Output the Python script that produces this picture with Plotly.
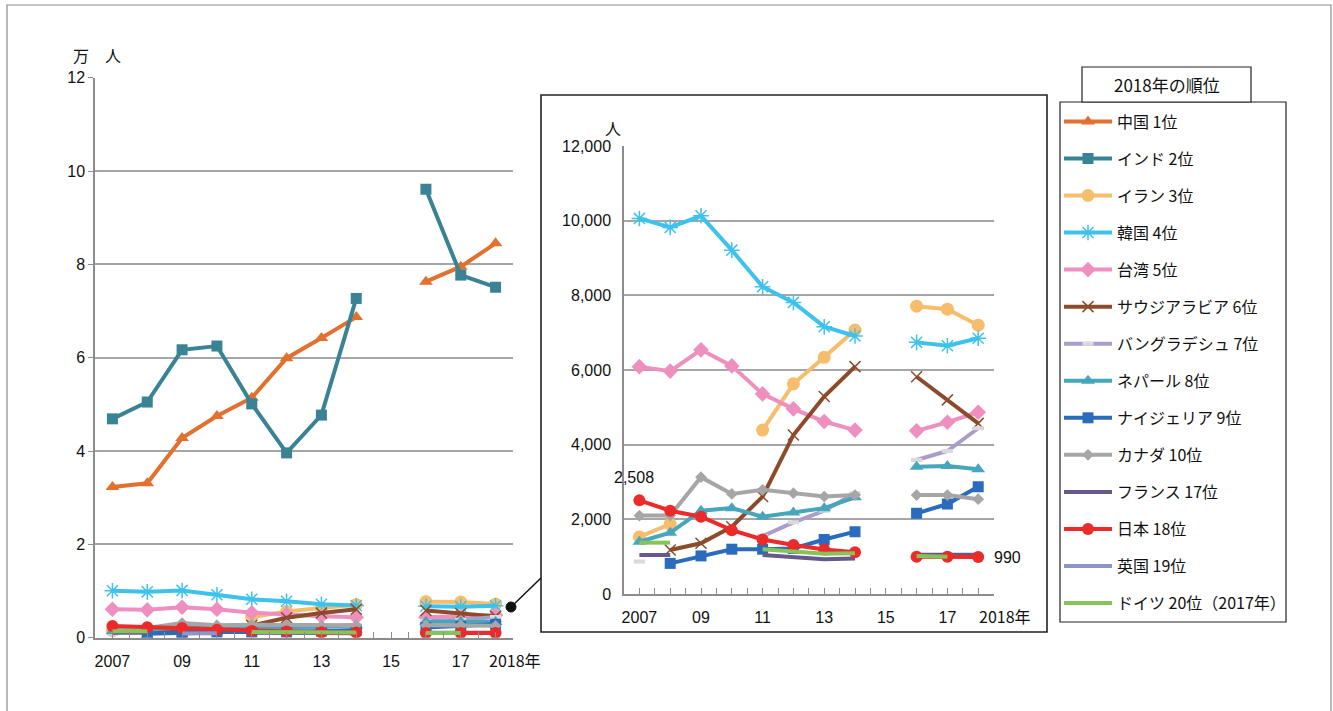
import plotly.graph_objects as go

# ---- data (persons) ----
years = [2007, 2008, 2009, 2010, 2011, 2012, 2013, 2014, 2015, 2016, 2017, 2018]

china      = [32300, 33100, 42800, 47500, 51400, 59900, 64200, 68700, None, 76300, 79500, 84500]
india      = [46900, 50500, 61700, 62500, 50100, 39600, 47700, 72700, None, 96100, 77700, 75100]
iran       = [1530, 1870, None, None, 4390, 5630, 6340, 7070, None, 7710, 7630, 7200]
korea      = [10060, 9820, 10130, 9210, 8230, 7810, 7160, 6910, None, 6740, 6650, 6850]
taiwan     = [6090, 5970, 6540, 6110, 5360, 4960, 4620, 4390, None, 4370, 4600, 4870]
saudi      = [None, 1180, 1360, 1800, 2610, 4260, 5290, 6090, None, 5820, 5200, 4570]
bangladesh = [870, None, None, None, 1550, 1920, 2230, 2700, None, 3590, 3830, 4440]
nepal      = [1400, 1640, 2230, 2300, 2070, 2180, 2300, 2590, None, 3410, 3430, 3340]
nigeria    = [None, 820, 1020, 1200, 1200, 1220, 1460, 1670, None, 2160, 2410, 2870]
canada     = [2100, 2100, 3130, 2680, 2790, 2700, 2610, 2650, None, 2650, 2650, 2540]
france     = [1045, 1045, None, None, 1045, 980, 930, 950, None, 1050, 1050, 1050]
japan      = [2508, 2230, 2070, 1710, 1460, 1310, 1190, 1120, None, 1000, 1000, 990]
uk         = [None, None, 900, 950, None, None, None, None, None, None, None, None]
germany    = [1375, 1375, None, None, 1200, 1130, 1080, 1090, None, 1020, 1000, None]

names = ["中国 1位", "インド 2位", "イラン 3位", "韓国 4位", "台湾 5位", "サウジアラビア 6位",
         "バングラデシュ 7位", "ネパール 8位", "ナイジェリア 9位", "カナダ 10位",
         "フランス 17位", "日本 18位", "英国 19位", "ドイツ 20位（2017年）"]

tick_years = [2007, 2009, 2011, 2013, 2015, 2017]
tick_text = ["2007", "09", "11", "13", "15", "17"]

# ---- styles ----
W, H = 1333, 711
FONT = "Liberation Sans, Arial, Noto Sans CJK JP, sans-serif"
JFONT = "Noto Sans CJK JP, Liberation Sans, sans-serif"

def X(px):
    return px / W

def Y(py):
    return 1 - py / H

series = [
    (china,      "#E2702F", dict(symbol="triangle-up", size=12), True),
    (india,      "#398395", dict(symbol="square", size=11), True),
    (iran,       "#F6BE6C", dict(symbol="circle", size=13), False),
    (korea,      "#3DC2EC", dict(symbol="asterisk-open", size=13, line=dict(width=1.5, color="#3DC2EC")), False),
    (taiwan,     "#EF8FBF", dict(symbol="diamond", size=12), False),
    (saudi,      "#8C4B2A", dict(symbol="x-thin-open", size=11, line=dict(width=1.5, color="#6E3718")), False),
    (bangladesh, "#AA9DCB", dict(symbol="line-ew", size=8, line=dict(width=4, color="#D9D9DE")), False),
    (nepal,      "#45A6BC", dict(symbol="triangle-up", size=12), False),
    (nigeria,    "#2A6BBE", dict(symbol="square", size=11), False),
    (canada,     "#A6A6A6", dict(symbol="diamond", size=9), False),
    (france,     "#67598A", None, False),
    (japan,      "#EC2A2A", dict(symbol="circle", size=12), False),
    (uk,         "#8E94CC", None, False),
    (germany,    "#86C45A", None, False),
]

fig = go.Figure()

# left panel: values in 万人, legend entries come from here
for i, (vals, color, marker, _) in enumerate(series):
    yv = [None if v is None else v / 10000 for v in vals]
    mode = "lines+markers" if marker else "lines"
    kw = dict(marker=dict(color=color, **marker)) if marker else {}
    fig.add_trace(go.Scatter(
        x=years, y=yv, mode=mode, name=names[i], legendgroup=str(i),
        line=dict(color=color, width=4), connectgaps=False,
        xaxis="x", yaxis="y", showlegend=True, hoverinfo="skip", **kw))

# inset panel: persons (China, India and UK not drawn)
for i, (vals, color, marker, big) in enumerate(series):
    if big or vals is uk:
        continue
    mode = "lines+markers" if marker else "lines"
    kw = dict(marker=dict(color=color, **marker)) if marker else {}
    fig.add_trace(go.Scatter(
        x=years, y=vals, mode=mode, name=names[i], legendgroup=str(i),
        line=dict(color=color, width=4), connectgaps=False,
        xaxis="x2", yaxis="y2", showlegend=False, hoverinfo="skip", **kw))

axis_common = dict(
    showline=True, linecolor="#8C8C8C", linewidth=1.5, automargin=False,
    tickfont=dict(family=FONT, size=16, color="#111"),
)

xcommon = dict(
    range=[2006.5, 2018.5], tickmode="array", tickvals=tick_years, ticktext=tick_text,
    ticks="inside", ticklen=6, tickcolor="#8C8C8C", tickwidth=1.2, ticklabelstandoff=8,
    minor=dict(tick0=2006.5, dtick=0.5, ticks="inside", ticklen=6, tickcolor="#8C8C8C", tickwidth=1.2),
    showgrid=False, zeroline=False, **axis_common,
)

fig.update_layout(
    width=W, height=H,
    margin=dict(l=0, r=0, t=0, b=0, pad=0, autoexpand=False),
    paper_bgcolor="white", plot_bgcolor="white",
    xaxis=dict(domain=[X(95), X(513)], anchor="y", **xcommon),
    yaxis=dict(domain=[Y(637.7), Y(77.7)], anchor="x", range=[0, 12], dtick=2,
               showgrid=True, gridcolor="#A6A6A6", gridwidth=1.5, zeroline=False,
               ticks="outside", ticklen=5, tickcolor="#8C8C8C", **axis_common),
    xaxis2=dict(domain=[X(624), X(993.6)], anchor="y2", **xcommon),
    yaxis2=dict(domain=[Y(594), Y(146)], anchor="x2", range=[0, 12000], dtick=2000,
                tickformat=",", showgrid=True, gridcolor="#A6A6A6", gridwidth=1.5,
                zeroline=False, ticks="", ticklabelstandoff=8, **axis_common),
    legend=dict(
        x=X(1059), y=Y(104.5), xanchor="left", yanchor="top",
        bgcolor="rgba(0,0,0,0)", borderwidth=0,
        font=dict(family=JFONT, size=16, color="#111"),
        traceorder="grouped", tracegroupgap=13.25, itemwidth=48,
    ),
    showlegend=True,
)

shapes = [
    # outer frame
    dict(type="rect", xref="paper", yref="paper", x0=X(7), x1=X(1331), y0=-0.02, y1=Y(5),
         line=dict(color="#8C8C8C", width=1.2), layer="below"),
    # inset frame
    dict(type="rect", xref="paper", yref="paper", x0=X(541), x1=X(1047), y0=Y(632), y1=Y(95),
         line=dict(color="#222", width=1.6), layer="below"),
    # legend frame
    dict(type="rect", xref="paper", yref="paper", x0=X(1060), x1=X(1286), y0=Y(622), y1=Y(102),
         line=dict(color="#222", width=1.2), layer="below"),
    # legend title box
    dict(type="rect", xref="paper", yref="paper", x0=X(1082), x1=X(1251), y0=Y(102), y1=Y(67),
         line=dict(color="#222", width=1.2), fillcolor="white", layer="below"),
    # connector from main chart to inset
    dict(type="line", xref="paper", yref="paper", x0=X(511), y0=Y(607), x1=X(541), y1=Y(578),
         line=dict(color="#111", width=1.5)),
    dict(type="circle", xref="paper", yref="paper", x0=X(506), x1=X(516), y0=Y(612), y1=Y(602),
         line=dict(color="#111", width=1), fillcolor="#111"),
]
fig.update_layout(shapes=shapes)

ann = [
    dict(text="万　人", x=X(96.5), y=Y(55), xref="paper", yref="paper", showarrow=False,
         xanchor="center", yanchor="middle", font=dict(family=JFONT, size=16, color="#111")),
    dict(text="人", x=X(613), y=Y(128), xref="paper", yref="paper", showarrow=False,
         xanchor="center", yanchor="middle", font=dict(family=JFONT, size=16, color="#111")),
    dict(text="2018年", x=2018, y=0, xref="x", yref="y", yanchor="middle", xanchor="left",
         xshift=-9, yshift=-22, showarrow=False, font=dict(family=JFONT, size=16, color="#111")),
    dict(text="2018年", x=2018, y=0, xref="x2", yref="y2", yanchor="middle", xanchor="left",
         xshift=-1, yshift=-22, showarrow=False, font=dict(family=JFONT, size=16, color="#111")),
    dict(text=f"{japan[0]:,}", x=years[0], y=japan[0], xref="x2", yref="y2", showarrow=False,
         xanchor="center", yanchor="middle",
         xshift=-5, yshift=23, font=dict(family=FONT, size=16, color="#111")),
    dict(text=f"{japan[-1]:,}", x=years[-1], y=japan[-1], xref="x2", yref="y2", showarrow=False,
         xanchor="left", yanchor="middle", xshift=14, font=dict(family=FONT, size=16, color="#111")),
    dict(text="2018年の順位", x=X(1166.5), y=Y(85), xref="paper", yref="paper", showarrow=False,
         xanchor="center", yanchor="middle", font=dict(family=JFONT, size=17, color="#111")),
]
fig.update_layout(annotations=ann)

fig.write_html("out.html")
